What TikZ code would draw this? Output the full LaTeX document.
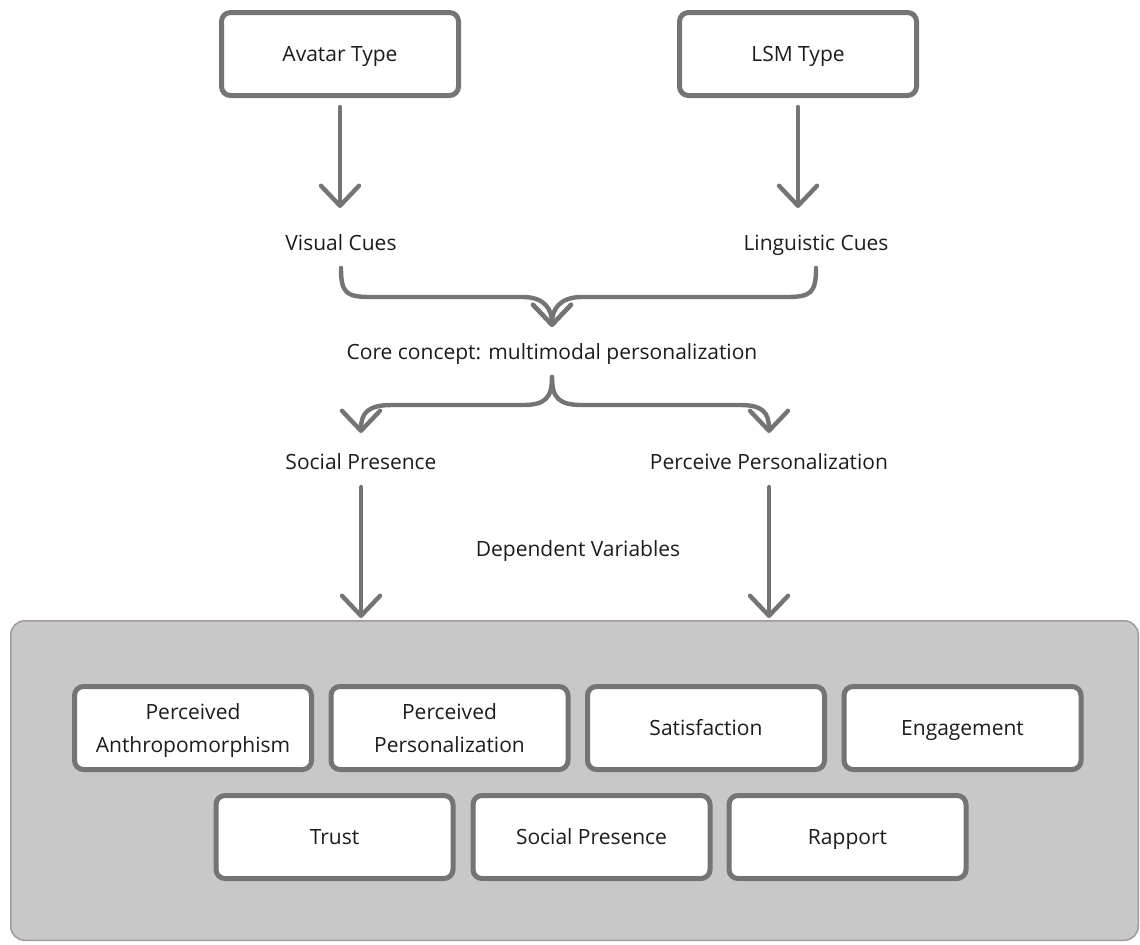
\documentclass[tikz,border=0pt]{standalone}
\usepackage{fontspec}
\setmainfont{Open Sans}
\usetikzlibrary{arrows.meta,calc}
\definecolor{linec}{HTML}{747474}
\definecolor{txt}{HTML}{1C1C1C}
\definecolor{panel}{HTML}{C8C8C8}
\definecolor{panelb}{HTML}{A39898}
\begin{document}
\begin{tikzpicture}[x=0.5pt,y=-0.5pt,
  every node/.style={text=txt, font=\fontsize{10.5}{16.5}\selectfont},
  lbl/.style={inner sep=0pt, outer sep=0pt, text height=9pt, text depth=1.5pt},
  box/.style={draw=linec, line width=2.5pt, rounded corners=4.5pt, fill=white,
    minimum width=118.5pt, minimum height=41.5pt, align=center, inner sep=0pt,
    text height=9pt, text depth=1.5pt},
  box2/.style={box, text height=27pt, text depth=2.5pt},
  conn/.style={draw=linec, line width=2.2pt, line cap=round,
    -{Straight Barb[length=10pt,width=19pt,round]}},
  ]
\useasboundingbox (0,0) rectangle (1140,944);

% top boxes
\node[box] (avatar) at (340,54) {Avatar Type};
\node[box] (lsm) at (798,54) {LSM Type};

% labels
\node[lbl] (vis) at (341,243) {Visual Cues};
\node[lbl] (ling) at (816,243) {Linguistic Cues};
\node[lbl] (core) at (552,352) {Core concept: multimodal personalization};
\node[lbl] (sp) at (361,462) {Social Presence};
\node[lbl] (pp) at (769,462) {Perceive Personalization};
\node[lbl] (dvl) at (578,549) {Dependent Variables};

% panel
\node[draw=panelb, fill=panel, line width=0.75pt, rounded corners=7pt,
  minimum width=563.75pt, minimum height=159.75pt, inner sep=0pt] (dv) at (574.5,780.5) {};

% dependent variable boxes
\node[box2] (pa) at (193,728) {Perceived\\Anthropomorphism};
\node[box2] (ppz) at (449.5,728) {Perceived\\Personalization};
\node[box] (sat) at (706,728) {Satisfaction};
\node[box] (eng) at (962.5,728) {Engagement};
\node[box] (tr) at (334.5,837) {Trust};
\node[box] (spb) at (591.5,837) {Social Presence};
\node[box] (rap) at (847.5,837) {Rapport};

% straight arrows
\draw[conn, shorten <=4.5pt, shorten >=12.25pt] (avatar.south) -- (avatar.south |- vis.north);
\draw[conn, shorten <=4.5pt, shorten >=12.25pt] (lsm.south) -- (lsm.south |- ling.north);
\draw[conn, shorten <=7.25pt, shorten >=1pt] (sp.south) -- (sp.south |- dv.north);
\draw[conn, shorten <=7.25pt, shorten >=1pt] (pp.south) -- (pp.south |- dv.north);

% merging brace
\draw[conn, shorten <=7.25pt, shorten >=7.25pt] (vis.south) .. controls (341,293) and (346,297) .. (371,297)
  -- (523,297) .. controls (545,297) and (552,310) .. (core.north);
\draw[conn, shorten <=7.25pt, shorten >=7.25pt] (ling.south) .. controls (816,293) and (811,297) .. (786,297)
  -- (582,297) .. controls (559,297) and (552,310) .. (core.north);

% splitting brace
\draw[conn, shorten <=7.25pt, shorten >=9.25pt] (core.south) .. controls (552,398) and (545,405) .. (523,405)
  -- (392,405) .. controls (369,405) and (361,412) .. (sp.north);
\draw[conn, shorten <=7.25pt, shorten >=9.25pt] (core.south) .. controls (552,398) and (559,405) .. (582,405)
  -- (740,405) .. controls (762,405) and (769,412) .. (pp.north);
\end{tikzpicture}
\end{document}
